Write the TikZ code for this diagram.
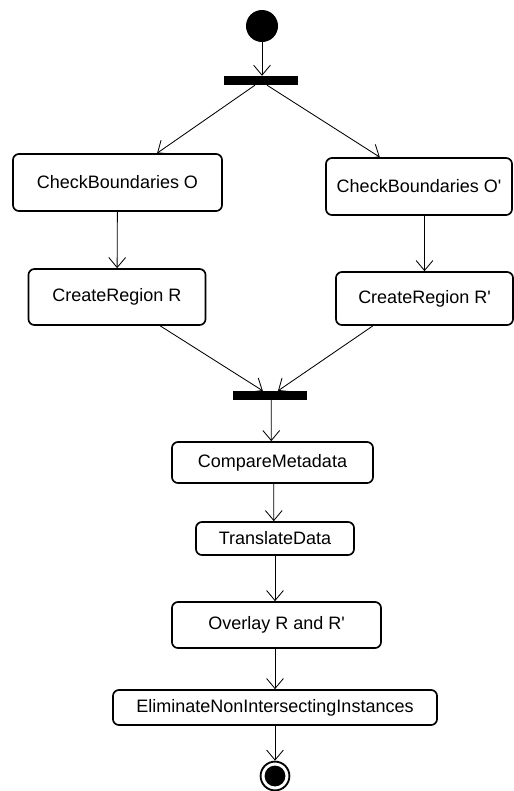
\documentclass[tikz,border=0pt]{standalone}
\usepackage{fontspec}
\newfontfamily\diagfont{Liberation Sans}
\usetikzlibrary{arrows.meta}
\begin{document}
\begin{tikzpicture}[x=0.025cm, y=-0.025cm]
%define

\tikzstyle{state} = [rectangle, rounded corners=0.15cm, text centered, draw=black, line width=1.2pt, font=\diagfont\fontsize{12.8}{15}\selectfont]
\tikzstyle{bar} = [rectangle, fill=black, minimum width=1.85cm, minimum height=0.22cm, inner sep=0pt]
\tikzstyle{arrow} = [-{Straight Barb[length=0.25cm, width=0.42cm]}, line width=0.6pt]

\useasboundingbox (0,0) rectangle (514,791);

%start, fork and join
\node[circle, fill=black, minimum size=0.8cm, inner sep=0pt](state_Start) at (262,26){};
\node[bar](state_Fork) at (261,80.5){};
\node[bar](state_Join) at (270,395.5){};

%boxes
\node[state, minimum width=5.225cm, minimum height=1.425cm](state_CheckO) at (117.5,182.5){CheckBoundaries O};
\node[state, minimum width=4.65cm, minimum height=1.425cm](state_CheckO2) at (419,186.5){CheckBoundaries O'};
\node[state, minimum width=4.425cm, minimum height=1.4cm](state_RegionR) at (117,297){CreateRegion R};
\node[state, minimum width=4.425cm, minimum height=1.325cm](state_RegionR2) at (424.5,298.5){CreateRegion R'};
\node[state, minimum width=5.025cm, minimum height=1.025cm](state_Compare) at (272.5,462.5){CompareMetadata};
\node[state, minimum width=3.95cm, minimum height=0.825cm](state_Translate) at (275,538.5){TranslateData};
\node[state, minimum width=5.225cm, minimum height=1.15cm](state_Overlay) at (276.5,625){Overlay R and R'};
\node[state, minimum width=8.1cm, minimum height=0.875cm](state_Eliminate) at (275,707.5){EliminateNonIntersectingInstances};

%end
\node[circle, draw=black, line width=1.3pt, minimum size=0.72cm, inner sep=0pt](state_End) at (275,776){};
\fill (state_End.center) circle (0.26cm);

%line

\draw[arrow](state_Start)--(state_Start |- state_Fork.north); %Start->Fork
\draw[arrow]([xshift=-0.15cm]state_Fork.south)--([xshift=0.99cm]state_CheckO.north); %Fork->CheckO
\draw[arrow]([xshift=0.15cm]state_Fork.south)--([xshift=-0.98cm]state_CheckO2.north); %Fork->CheckO'
\draw[arrow](state_CheckO)--(state_RegionR); %CheckO->RegionR
\draw[arrow](state_CheckO2.south -| state_RegionR2.north)--(state_RegionR2.north); %CheckO'->RegionR'
\draw[arrow]([xshift=1.08cm]state_RegionR.south)--([xshift=-0.18cm]state_Join.north); %RegionR->Join
\draw[arrow]([xshift=-1.29cm]state_RegionR2.south)--([xshift=0.2cm]state_Join.north); %RegionR'->Join
\draw[arrow]([xshift=0.03cm]state_Join.south)--([xshift=-0.03cm]state_Compare.north); %Join->Compare
\draw[arrow]([xshift=0.03cm]state_Compare.south)--([xshift=-0.03cm]state_Translate.north); %Compare->Translate
\draw[arrow](state_Translate.south)--(state_Translate.south |- state_Overlay.north); %Translate->Overlay
\draw[arrow](state_Overlay.south -| state_Eliminate.north)--(state_Eliminate.north); %Overlay->Eliminate
\draw[arrow](state_Eliminate)--(state_End); %Eliminate->End

\end{tikzpicture}
\end{document}
